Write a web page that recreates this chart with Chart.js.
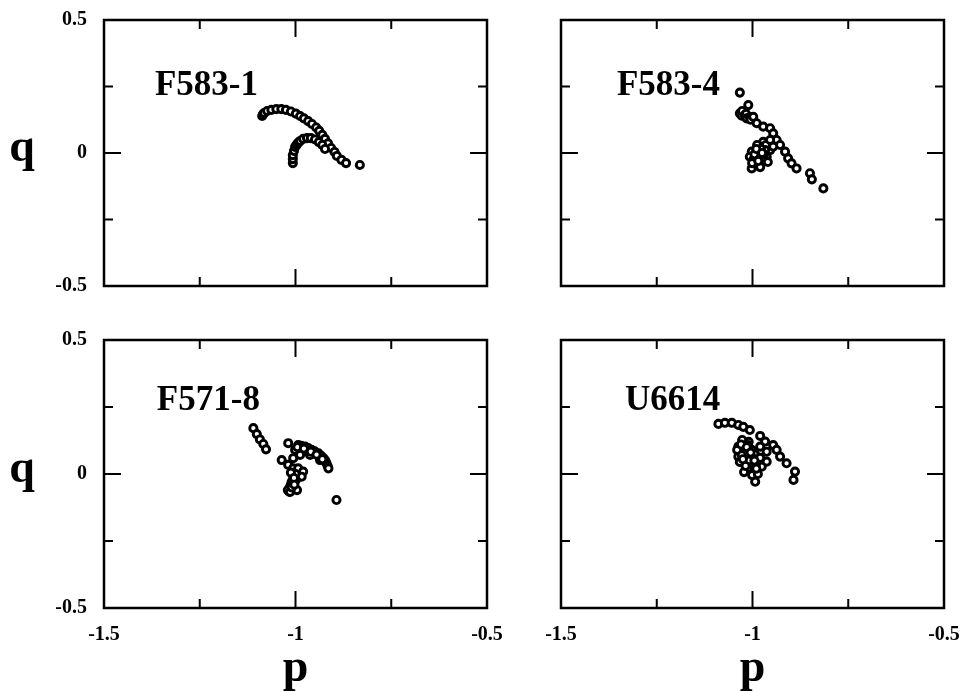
<!DOCTYPE html>
<html>
<head>
<meta charset="utf-8">
<script src="https://cdn.jsdelivr.net/npm/chart.js@4/dist/chart.umd.min.js"></script>
<style>
  html, body { margin: 0; padding: 0; background: #fff; }
  #wrap { position: relative; width: 965px; height: 691px; }
  #wrap canvas { position: absolute; left: 0; top: 0; }
</style>
</head>
<body>
<div id="wrap">
  <canvas id="tl" width="965" height="691"></canvas>
  <canvas id="tr" width="965" height="691"></canvas>
  <canvas id="bl" width="965" height="691"></canvas>
  <canvas id="br" width="965" height="691"></canvas>
</div>
<script>
'use strict';

// tick values (labelled ones) and the extra inward marks
const xTickValues = [-1.5, -1, -0.5];
const yTickValues = [-0.5, 0, 0.5];
const xMinorMarks = [-1.25, -0.75];
const yMinorMarks = [-0.25, 0.25];
const axisTitleX = 'p';
const axisTitleY = 'q';

// F583-1 : upper arc, then the hook underneath
const f5831P = [-1.087, -1.085, -1.082, -1.074, -1.063, -1.050, -1.037, -1.025, -1.012, -0.999, -0.988, -0.978, -0.967, -0.957, -0.946, -0.938, -0.930, -0.923, -0.915, -0.907, -0.898, -0.892, -0.880, -0.868, -0.832,
  -1.007, -1.007, -1.007, -1.004, -1.001, -0.998, -0.996, -0.992, -0.988, -0.980, -0.970, -0.960, -0.949, -0.939, -0.930, -0.923];
const f5831Q = [0.139, 0.145, 0.150, 0.158, 0.162, 0.165, 0.165, 0.162, 0.156, 0.148, 0.139, 0.130, 0.120, 0.109, 0.096, 0.083, 0.068, 0.053, 0.036, 0.019, 0.004, -0.011, -0.026, -0.038, -0.045,
  -0.038, -0.023, -0.008, 0.008, 0.023, 0.028, 0.034, 0.040, 0.045, 0.053, 0.056, 0.056, 0.051, 0.041, 0.030, 0.015];

// F583-4
const f5834P = [-1.033, -1.011, -1.033, -1.028, -1.027, -1.020, -1.017, -1.015, -1.007, -1.005, -0.998, -0.989, -0.972, -0.954, -0.946, -0.937, -0.928, -0.915, -0.907, -0.898, -0.885, -0.850, -0.845, -0.815,
  -0.972, -0.980, -1.002, -1.007, -0.998, -1.002, -0.985, -0.963, -0.954, -0.946, -0.972, -0.990, -0.980, -0.965, -0.993,
  -0.988, -0.967, -0.988, -0.975, -0.993, -0.960, -0.980, -1.001, -0.954,
  -0.978, -0.995, -0.970, -0.985, -0.990, -0.975];
const f5834Q = [0.227, 0.180, 0.149, 0.140, 0.158, 0.143, 0.147, 0.130, 0.135, 0.125, 0.136, 0.112, 0.099, 0.093, 0.074, 0.049, 0.030, 0.005, -0.020, -0.039, -0.058, -0.076, -0.099, -0.133,
  0.042, 0.024, 0.005, -0.014, -0.026, -0.058, -0.045, -0.014, 0.011, 0.024, -0.026, 0.000, -0.010, 0.030, -0.040,
  0.030, 0.011, 0.000, -0.019, -0.026, -0.034, -0.053, -0.038, 0.049,
  0.015, -0.005, -0.005, -0.030, 0.015, 0.000];

// F571-8
const f5718P = [-1.110, -1.101, -1.093, -1.084, -1.077, -1.019, -1.036, -1.019, -1.006, -0.993, -0.985, -0.975, -0.967, -0.958, -0.950, -0.940, -0.933, -0.927, -0.922, -0.919, -0.916, -0.914,
  -0.990, -0.970, -1.006, -0.993, -0.980, -0.984, -1.006, -1.010, -1.014, -1.016, -1.012, -1.008, -1.020, -1.000, -1.012, -0.893,
  -1.001, -0.988, -1.009, -0.999, -1.014, -0.996, -0.962, -0.936,
  -0.995, -0.978, -0.960, -0.945, -0.930, -1.004, -1.010, -1.003];
const f5718Q = [0.171, 0.149, 0.129, 0.112, 0.092, 0.115, 0.052, 0.034, 0.059, 0.108, 0.105, 0.102, 0.097, 0.090, 0.085, 0.077, 0.068, 0.059, 0.050, 0.040, 0.030, 0.021,
  0.095, 0.085, 0.021, 0.021, 0.009, -0.010, -0.010, -0.029, -0.047, -0.066, -0.040, -0.055, -0.060, 0.000, 0.005, -0.097,
  0.090, 0.071, -0.041, -0.022, -0.067, -0.060, 0.071, 0.052,
  0.100, 0.095, 0.083, 0.072, 0.055, -0.015, -0.050, -0.040];

// U6614
const u6614P = [-1.089, -1.072, -1.054, -1.037, -1.024, -1.007, -0.980, -0.967, -0.946, -0.937, -0.963, -0.928, -0.911, -0.889, -0.893, -0.963, -0.993,
  -1.037, -1.033, -1.020, -1.007, -0.989, -1.002, -0.989, -1.020, -0.980, -1.037, -0.976, -1.010, -1.025, -1.000, -0.995, -1.015,
  -1.027, -1.012, -1.040, -1.020, -1.001, -1.033, -1.012, -0.991, -0.980, -1.022, -1.001, -0.986,
  -1.030, -1.015, -1.005, -1.028, -1.010, -0.995, -1.018, -0.990, -1.025];
const u6614Q = [0.187, 0.191, 0.191, 0.183, 0.176, 0.164, 0.142, 0.121, 0.108, 0.090, 0.083, 0.065, 0.040, 0.009, -0.022, 0.046, -0.029,
  0.102, 0.078, 0.052, 0.027, 0.009, 0.090, 0.065, 0.115, 0.102, 0.065, 0.027, 0.120, 0.090, 0.040, 0.075, 0.065,
  0.127, 0.108, 0.090, 0.082, 0.060, 0.045, 0.022, 0.037, 0.060, 0.007, -0.004, 0.000,
  0.110, 0.100, 0.080, 0.070, 0.050, 0.050, 0.030, 0.020, 0.055];

const FONT = '"Liberation Serif", "Times New Roman", serif';

const panels = [
  { id: 'tl', name: 'F583-1', at: [-1.367, 0.218], p: f5831P, q: f5831Q, area: { left: 104, top: 20, right: 487, bottom: 286 }, leftCol: true, bottomRow: false },
  { id: 'tr', name: 'F583-4', at: [-1.354, 0.218], p: f5834P, q: f5834Q, area: { left: 561, top: 20, right: 944, bottom: 286 }, leftCol: false, bottomRow: false },
  { id: 'bl', name: 'F571-8', at: [-1.362, 0.239], p: f5718P, q: f5718Q, area: { left: 104, top: 340, right: 487, bottom: 608 }, leftCol: true, bottomRow: true },
  { id: 'br', name: 'U6614', at: [-1.333, 0.239], p: u6614P, q: u6614Q, area: { left: 561, top: 340, right: 944, bottom: 608 }, leftCol: false, bottomRow: true },
];

const W = 965, H = 691;
const X_AXIS_H = 83;

// frame with inward ticks on all four sides, panel name and the upright "q"
const framePlugin = {
  id: 'frame',
  afterDatasetsDraw(chart, args, opts) {
    const { ctx, chartArea: a, scales: { x, y } } = chart;
    ctx.save();
    ctx.strokeStyle = '#000';
    ctx.lineWidth = 2.5;
    ctx.strokeRect(a.left, a.top, a.right - a.left, a.bottom - a.top);

    ctx.lineWidth = 2;
    const marksX = (vals, len) => {
      vals.forEach((v) => {
        const px = x.getPixelForValue(v);
        ctx.beginPath();
        ctx.moveTo(px, a.bottom); ctx.lineTo(px, a.bottom - len);
        ctx.moveTo(px, a.top); ctx.lineTo(px, a.top + len);
        ctx.stroke();
      });
    };
    const marksY = (vals, len) => {
      vals.forEach((v) => {
        const py = y.getPixelForValue(v);
        ctx.beginPath();
        ctx.moveTo(a.left, py); ctx.lineTo(a.left + len, py);
        ctx.moveTo(a.right, py); ctx.lineTo(a.right - len, py);
        ctx.stroke();
      });
    };
    marksX(xMinorMarks, 9);
    marksX(xTickValues.slice(1, -1), 17);
    marksY(yMinorMarks, 9);
    marksY(yTickValues.slice(1, -1), 17);

    ctx.fillStyle = '#000';
    ctx.textAlign = 'left';
    ctx.textBaseline = 'alphabetic';
    ctx.font = `bold 35px ${FONT}`;
    ctx.fillText(opts.name, x.getPixelForValue(opts.at[0]), y.getPixelForValue(opts.at[1]));

    if (opts.showQ) {
      ctx.font = `bold 46px ${FONT}`;
      ctx.textAlign = 'center';
      ctx.fillText(axisTitleY, 22, y.getPixelForValue(0) + 8);
    }
    ctx.restore();
  },
};

const tickFont = { family: FONT, size: 20, weight: 'bold' };

const createChart = (panel) => {
  const canvas = document.getElementById(panel.id);
  const a = panel.area;

  new Chart(canvas, {
    type: 'scatter',
    data: {
      datasets: [{
        data: panel.p.map((v, i) => ({ x: v, y: panel.q[i] })),
        pointRadius: 3.6,
        pointHoverRadius: 3.6,
        pointBorderWidth: 2.9,
        pointBackgroundColor: '#fff',
        pointBorderColor: '#000',
      }],
    },
    options: {
      responsive: false,
      animation: false,
      events: [],
      layout: {
        padding: {
          left: panel.leftCol ? 0 : a.left,
          right: W - a.right,
          top: a.top,
          bottom: panel.bottomRow ? 0 : H - a.bottom,
        },
      },
      plugins: {
        legend: { display: false },
        tooltip: { enabled: false },
        frame: { name: panel.name, at: panel.at, showQ: panel.leftCol },
      },
      scales: {
        x: {
          type: 'linear',
          min: -1.5,
          max: -0.5,
          display: panel.bottomRow,
          afterBuildTicks: (s) => { s.ticks = xTickValues.map((v) => ({ value: v })); },
          afterFit: (s) => {
            if (panel.bottomRow) s.height = X_AXIS_H;
            s.paddingLeft = 0;
            s.paddingRight = 0;
          },
          grid: { display: false, drawTicks: false },
          border: { display: false },
          ticks: { padding: 15, color: '#000', font: tickFont, maxRotation: 0, autoSkip: false, callback: (v) => String(v) },
          title: { display: true, text: axisTitleX, color: '#000', padding: { top: 0, bottom: -6 }, font: { family: FONT, size: 46, weight: 'bold' } },
        },
        y: {
          type: 'linear',
          min: -0.5,
          max: 0.5,
          display: panel.leftCol,
          afterBuildTicks: (s) => { s.ticks = yTickValues.map((v) => ({ value: v })); },
          afterFit: (s) => {
            if (panel.leftCol) s.width = a.left;
            s.paddingTop = 0;
            s.paddingBottom = 0;
          },
          grid: { display: false, drawTicks: false },
          border: { display: false },
          ticks: { padding: 17, color: '#000', font: tickFont, autoSkip: false, callback: (v) => String(v) },
        },
      },
    },
    plugins: [framePlugin],
  });
};

panels.forEach((panel) => createChart(panel));
</script>
</body>
</html>
